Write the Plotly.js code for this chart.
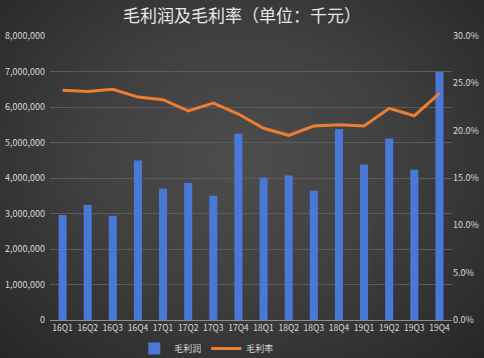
<!DOCTYPE html>
<html>
<head>
<meta charset="utf-8">
<script src="https://cdn.plot.ly/plotly-3.0.1.min.js"></script>
<style>
html,body{margin:0;padding:0;}
#chart{width:484px;height:358px;background:radial-gradient(ellipse at 50% 45%, #4d4d4d 0%, #404040 45%, #262626 100%);}
</style>
</head>
<body>
<div id="chart"></div>
<script>
const categories = ["16Q1","16Q2","16Q3","16Q4","17Q1","17Q2","17Q3","17Q4","18Q1","18Q2","18Q3","18Q4","19Q1","19Q2","19Q3","19Q4"];
const grossProfit = [2960000,3240000,2940000,4490000,3700000,3860000,3500000,5250000,4010000,4070000,3640000,5380000,4380000,5110000,4230000,6990000];
const grossMargin = [0.2426,0.2415,0.2437,0.2355,0.2327,0.2208,0.2292,0.2176,0.2025,0.1951,0.2049,0.2063,0.2049,0.2236,0.2158,0.2395];
const leftTicks = [0,1000000,2000000,3000000,4000000,5000000,6000000,7000000,8000000];
const leftTickText = ["0","1,000,000","2,000,000","3,000,000","4,000,000","5,000,000","6,000,000","7,000,000","8,000,000"];
const rightTicks = [0,0.05,0.10,0.15,0.20,0.25,0.30];
const rightTickText = ["0.0%","5.0%","10.0%","15.0%","20.0%","25.0%","30.0%"];

const font = "'Noto Sans CJK SC', 'Noto Sans', sans-serif";
const textColor = "#d9d9d9";

const traces = [
  {
    type: "bar", name: "毛利润", x: categories, y: grossProfit,
    marker: {color: "#4a78d6", line: {width: 0}}, yaxis: "y", hoverinfo: "none"
  },
  {
    type: "scatter", mode: "lines", name: "毛利率", x: categories, y: grossMargin,
    line: {color: "#ed7d31", width: 3}, yaxis: "y2", hoverinfo: "none"
  }
];

const layout = {
  width: 484, height: 358,
  paper_bgcolor: "rgba(0,0,0,0)", plot_bgcolor: "rgba(0,0,0,0)",
  margin: {l: 50, r: 32, t: 36, b: 38, autoexpand: false},
  title: {text: "毛利润及毛利率（单位：千元）", x: 0.5, xanchor: "center", y: 0.955, yanchor: "middle",
          font: {family: font, size: 17, color: "#e8e8e8"}},
  font: {family: font, size: 9, color: textColor},
  bargap: 0.68,
  showlegend: true,
  legend: {orientation: "h", x: 0.39, xanchor: "center", y: -0.1, yanchor: "middle",
           font: {family: font, size: 9, color: textColor}, bgcolor: "rgba(0,0,0,0)"},
  xaxis: {
    type: "category", showgrid: false, showline: true, linecolor: "#8c8c8c", linewidth: 1,
    ticks: "", tickfont: {family: font, size: 8.5, color: textColor}, fixedrange: true
  },
  yaxis: {
    range: [0, 8000000], tickvals: leftTicks, ticktext: leftTickText,
    showgrid: true, gridcolor: "#5c5c5c", gridwidth: 1, zeroline: false, showline: false,
    ticks: "", tickfont: {family: font, size: 9, color: textColor}, ticklabelstandoff: 4
  },
  yaxis2: {
    range: [0, 0.30], tickvals: rightTicks, ticktext: rightTickText, overlaying: "y", side: "right",
    showgrid: false, zeroline: false, showline: false, ticks: "",
    tickfont: {family: font, size: 9, color: textColor}
  }
};

Plotly.newPlot("chart", traces, layout, {displayModeBar: false, staticPlot: true});
</script>
</body>
</html>
